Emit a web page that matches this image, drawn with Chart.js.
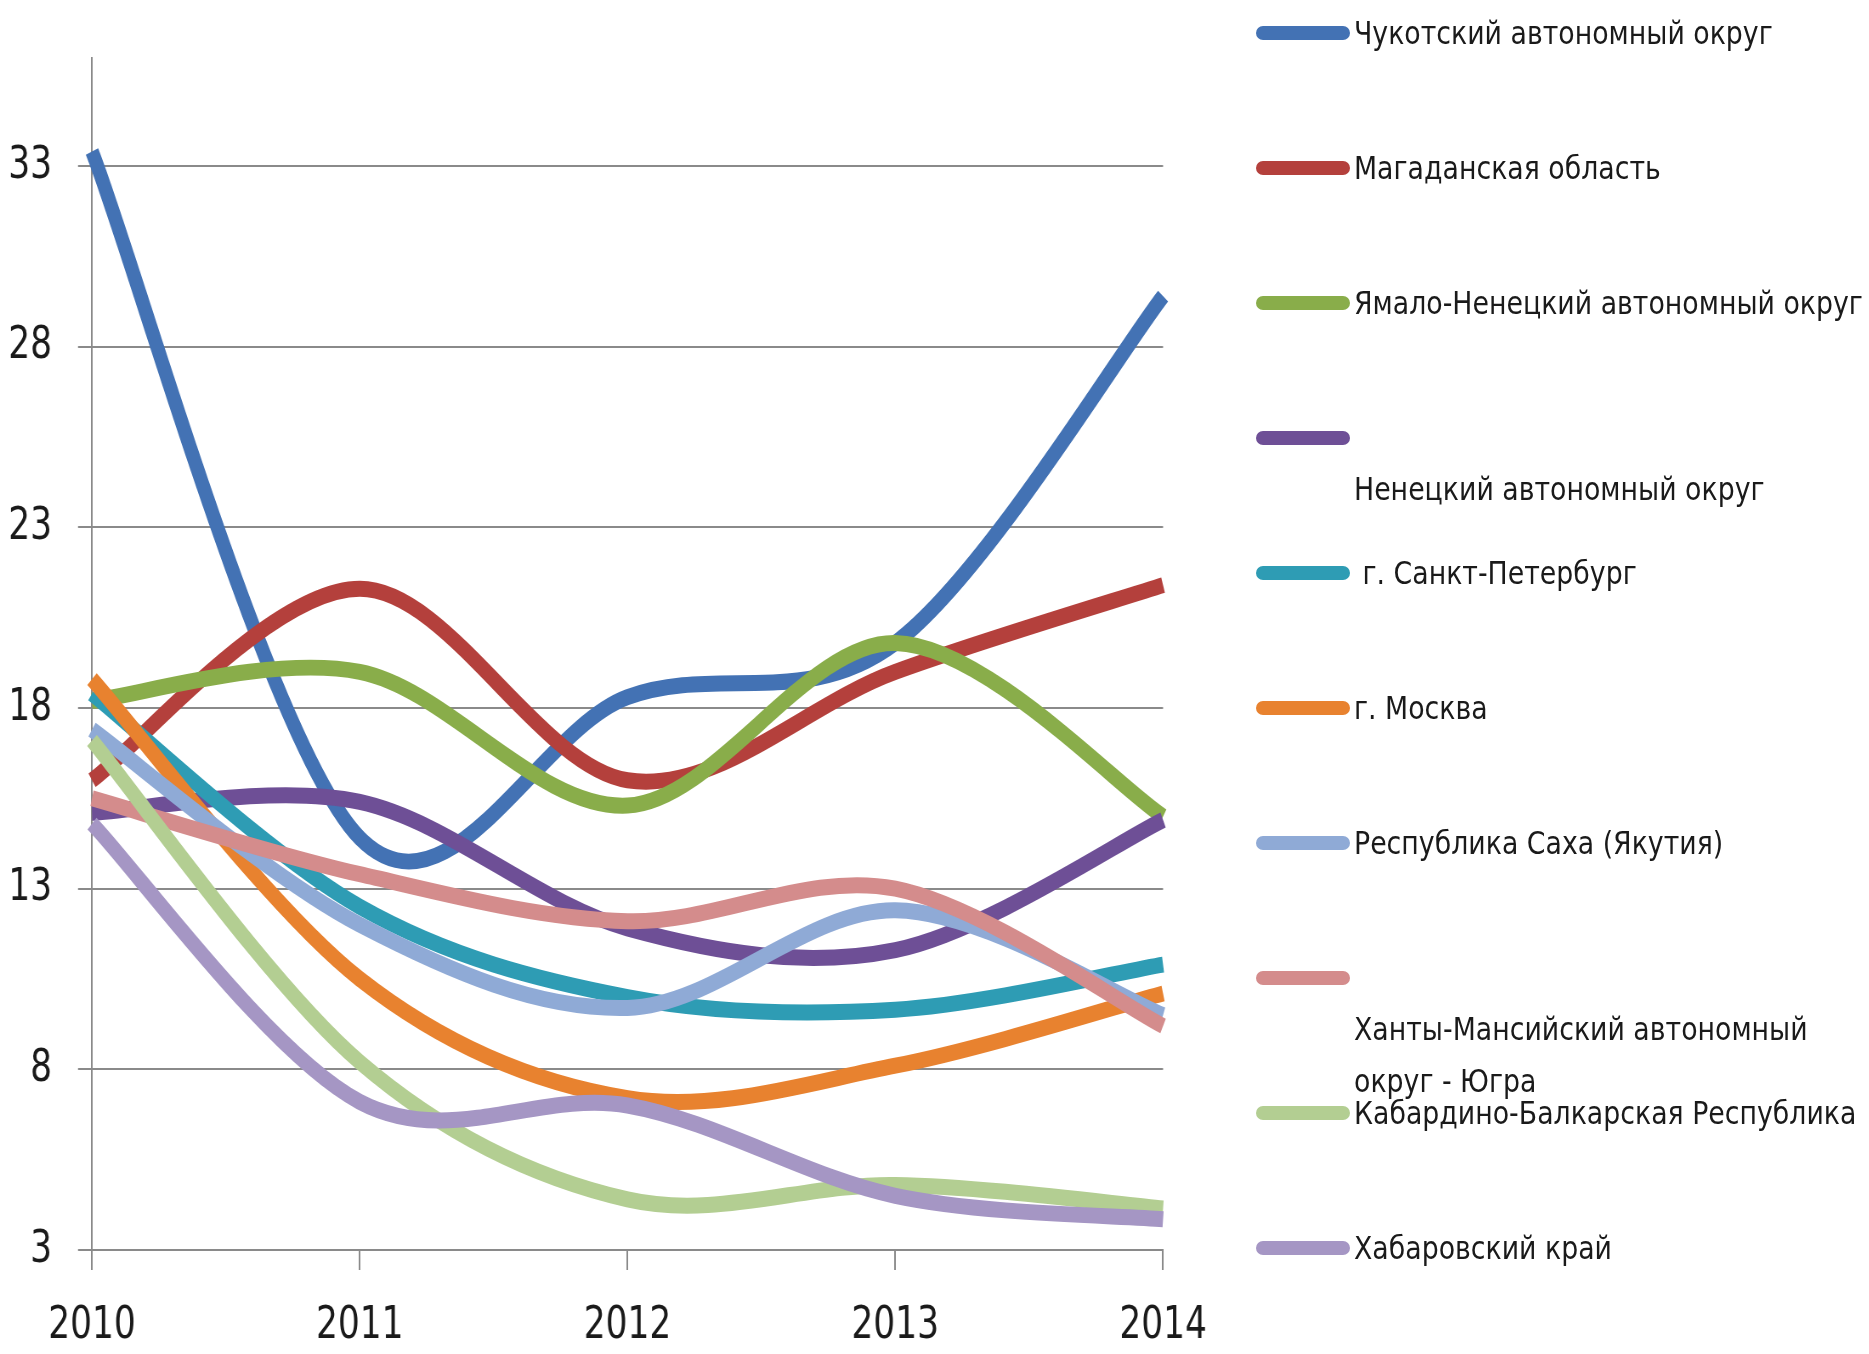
<!DOCTYPE html>
<html>
<head>
<meta charset="utf-8">
<script src="https://cdn.jsdelivr.net/npm/chart.js@4/dist/chart.umd.min.js"></script>
<style>
  html, body { margin: 0; padding: 0; background: #fff; }
  #wrap { position: relative; width: 1869px; height: 1354px; overflow: hidden; }
  #chart { position: absolute; left: 0; top: 0; }
  #legend { position: absolute; left: 0; top: 0; width: 1869px; height: 1354px; pointer-events: none; }
  .swatch { position: absolute; left: 1256px; width: 94px; height: 14px; border-radius: 7px; }
  .lbl { position: absolute; left: 1354px; font-family: 'DejaVu Sans Condensed', sans-serif; font-size: 32px; line-height: 52px; color: #1a1a1a; white-space: nowrap; transform: scaleX(0.93); transform-origin: left center; }
</style>
</head>
<body>
<div id="wrap">
  <canvas id="chart"></canvas>
  <div id="legend"></div>
</div>
<script>
const years = ['2010', '2011', '2012', '2013', '2014'];
const yTicks = [3, 8, 13, 18, 23, 28, 33];

const regionNames = [
  'Чукотский автономный округ',
  'Магаданская область',
  'Ямало-Ненецкий автономный округ',
  'Ненецкий автономный округ',
  ' г. Санкт-Петербург',
  'г. Москва',
  'Республика Саха (Якутия)',
  'Ханты-Мансийский автономный округ - Югра',
  'Кабардино-Балкарская Республика',
  'Хабаровский край',
];

const chukotka = [33.4, 14.4, 18.3, 19.8, 29.4];
const magadan = [16.0, 21.3, 16.0, 19.0, 21.4];
const yamal = [18.2, 19.0, 15.3, 19.8, 15.0];
const nenets = [15.1, 15.4, 11.9, 11.3, 14.9];
const spb = [18.4, 12.5, 10.0, 9.65, 10.9];
const moscow = [18.8, 10.5, 7.2, 8.1, 10.1];
const sakha = [17.4, 12.0, 9.7, 12.4, 9.5];
const khmao = [15.5, 13.4, 12.1, 13.0, 9.2];
const kbr = [17.1, 8.2, 4.4, 4.8, 4.15];
const khabarovsk = [14.8, 7.1, 7.0, 4.5, 3.85];

const seriesColors = ['#4372B4', '#B4403C', '#89AD4A', '#6E4F96', '#2E9CB4', '#E8822F', '#8FAAD6', '#D48C8C', '#B3CE92', '#A596C4'];
const allSeries = [chukotka, magadan, yamal, nenets, spb, moscow, sakha, khmao, kbr, khabarovsk];

// the original is a narrow Calibri-like face; draw the canvas wider and squeeze it back
const K = 0.85;
const FONT = "'DejaVu Sans Condensed', sans-serif";
const GRID = '#8a8a8a';

const canvas = document.getElementById('chart');
canvas.width = Math.round(1869 / K);
canvas.height = 1354;
canvas.style.width = '1869px';
canvas.style.height = '1354px';

// Excel-style smoothing: Catmull-Rom control points (1/6 of neighbour span)
const excelSmooth = {
  id: 'excelSmooth',
  beforeDatasetDraw(chart, args) {
    const pts = args.meta.data;
    const n = pts.length;
    for (let i = 0; i < n; i++) {
      const prev = pts[Math.max(0, i - 1)];
      const next = pts[Math.min(n - 1, i + 1)];
      const dx = (next.x - prev.x) / 6;
      const dy = (next.y - prev.y) / 6;
      pts[i].cp1x = pts[i].x - dx; pts[i].cp1y = pts[i].y - dy;
      pts[i].cp2x = pts[i].x + dx; pts[i].cp2y = pts[i].y + dy;
    }
    args.meta.dataset._pointsUpdated = true;
  },
};

const datasets = allSeries.map((data, i) => ({
  label: regionNames[i],
  data,
  borderColor: seriesColors[i],
  backgroundColor: seriesColors[i],
  borderWidth: 16,
  pointRadius: 0,
  tension: 0.4,
  fill: false,
  borderCapStyle: 'butt',
  borderJoinStyle: 'round',
  order: allSeries.length - i, // later series on top, like Excel
}));

const chart = new Chart(canvas, {
  type: 'line',
  data: { labels: years, datasets },
  plugins: [excelSmooth],
  options: {
    responsive: false,
    animation: false,
    devicePixelRatio: 1,
    layout: { padding: { top: 56, right: (1869 - 1163) / K, left: 0, bottom: 0 } },
    plugins: { legend: { display: false }, tooltip: { enabled: false } },
    scales: {
      x: {
        offset: false,
        grid: { drawOnChartArea: false, drawTicks: true, tickLength: 20, color: GRID, lineWidth: 2 },
        border: { display: true, color: GRID, width: 2 },
        ticks: { color: '#1a1a1a', font: { family: FONT, size: 45 }, padding: 29, maxRotation: 0 },
        afterFit: (s) => { s.height = 104; },
      },
      y: {
        min: 3,
        max: 36,
        grid: { drawOnChartArea: true, drawTicks: true, tickLength: 14 / K, color: GRID, lineWidth: 2 },
        border: { display: true, color: GRID, width: 2 },
        ticks: { color: '#1a1a1a', font: { family: FONT, size: 45 }, padding: 26 / K },
        afterBuildTicks: (s) => { s.ticks = yTicks.map((v) => ({ value: v })); },
        afterFit: (s) => { s.width = 92 / K; },
      },
    },
  },
});

// legend: Excel-style column on the right, one row every 135px
const ROW0 = 33;
const ROW_STEP = 135;
const shiftedText = { 3: 51, 7: 51 };
const wrapAfter = { 7: 'автономный ' };

document.getElementById('legend').innerHTML = chart.data.datasets.map((ds, i) => {
  const cy = ROW0 + i * ROW_STEP;
  const ty = cy + (shiftedText[i] || 0) - 26;
  let text = ds.label;
  if (wrapAfter[i]) text = text.replace(wrapAfter[i], wrapAfter[i].trim() + '<br>');
  return `<div class="swatch" style="top:${cy - 7}px;background:${ds.borderColor}"></div>` +
    `<div class="lbl" style="top:${ty}px">${text.replace(/^ /, '&nbsp;')}</div>`;
}).join('');
</script>
</body>
</html>
